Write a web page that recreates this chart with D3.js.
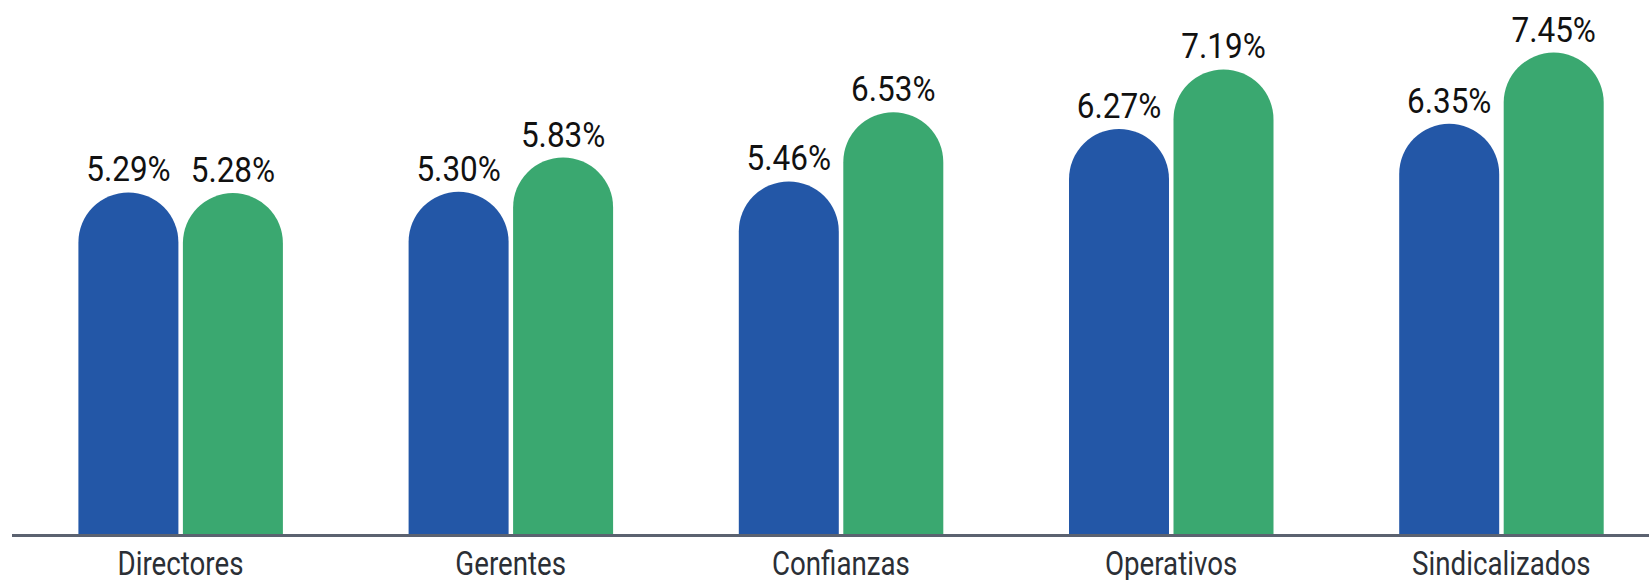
<!DOCTYPE html>
<html>
<head>
<meta charset="utf-8">
<script src="https://cdn.jsdelivr.net/npm/d3@7"></script>
<style>
  html, body { margin: 0; padding: 0; background: #ffffff; }
  svg { display: block; }
  text { font-family: Roboto, "Noto Sans", sans-serif; }
</style>
</head>
<body>
<svg id="chart" width="1649" height="580"></svg>
<script>
// Categories along the x axis
const categories = ["Directores", "Gerentes", "Confianzas", "Operativos", "Sindicalizados"];
// Two series of percentages per category
const seriesKeys = ["serieA", "serieB"];
const serieA = [5.29, 5.30, 5.46, 6.27, 6.35];
const serieB = [5.28, 5.83, 6.53, 7.19, 7.45];
const seriesColors = ["#2357a7", "#3aa870"];

const data = categories.map((c, i) => ({ category: c, values: [serieA[i], serieB[i]] }));

const width = 1649, height = 580;
const baseY = 535;
const svg = d3.select("#chart");

const x0 = d3.scaleBand().domain(categories).range([15.4, 1666.4]).padding(0);
const x1 = d3.scaleBand().domain(seriesKeys).range([63, 267.5]).paddingInner(0.043);
const y = d3.scaleLinear().domain([0, 8]).range([baseY, 17]);

// Bar with a fully rounded top
function roundedBar(x, w, top, bottom) {
  const r = w / 2;
  const p = d3.path();
  p.moveTo(x, bottom);
  p.lineTo(x, top + r);
  p.arc(x + r, top + r, r, Math.PI, 0);
  p.lineTo(x + w, bottom);
  p.closePath();
  return p.toString();
}

const groups = svg.append("g").selectAll("g")
  .data(data).join("g")
  .attr("transform", d => `translate(${x0(d.category)},0)`);

const bars = groups.selectAll("g.bar")
  .data(d => d.values.map((v, i) => ({ key: seriesKeys[i], value: v, idx: i })))
  .join("g").attr("class", "bar");

bars.append("path")
  .attr("d", d => roundedBar(x1(d.key), x1.bandwidth(), y(d.value), baseY))
  .attr("fill", d => seriesColors[d.idx]);

// Value labels above each bar
bars.append("text")
  .attr("transform", d => `translate(${x1(d.key) + x1.bandwidth() / 2},${y(d.value) - 11}) scale(0.9,1)`)
  .attr("text-anchor", "middle")
  .attr("font-size", 35)
  .attr("fill", "#111111")
  .text(d => d.value.toFixed(2) + "%");

// Baseline axis with category names
const xAxis = d3.axisBottom(x0).tickSize(0).tickPadding(0);
const axisG = svg.append("g").attr("transform", `translate(0,${baseY})`).call(xAxis);
axisG.select(".domain").remove();
axisG.append("line")
  .attr("x1", 12).attr("x2", width)
  .attr("y1", 0.5).attr("y2", 0.5)
  .attr("stroke", "#5b6270").attr("stroke-width", 3);
axisG.selectAll(".tick text")
  .attr("font-family", "Roboto, sans-serif")
  .attr("font-size", 33)
  .attr("fill", "#2b2f36")
  .attr("dy", 0)
  .attr("y", 40)
  .attr("text-anchor", "middle")
  .attr("transform", "scale(0.84,1)");
</script>
</body>
</html>
